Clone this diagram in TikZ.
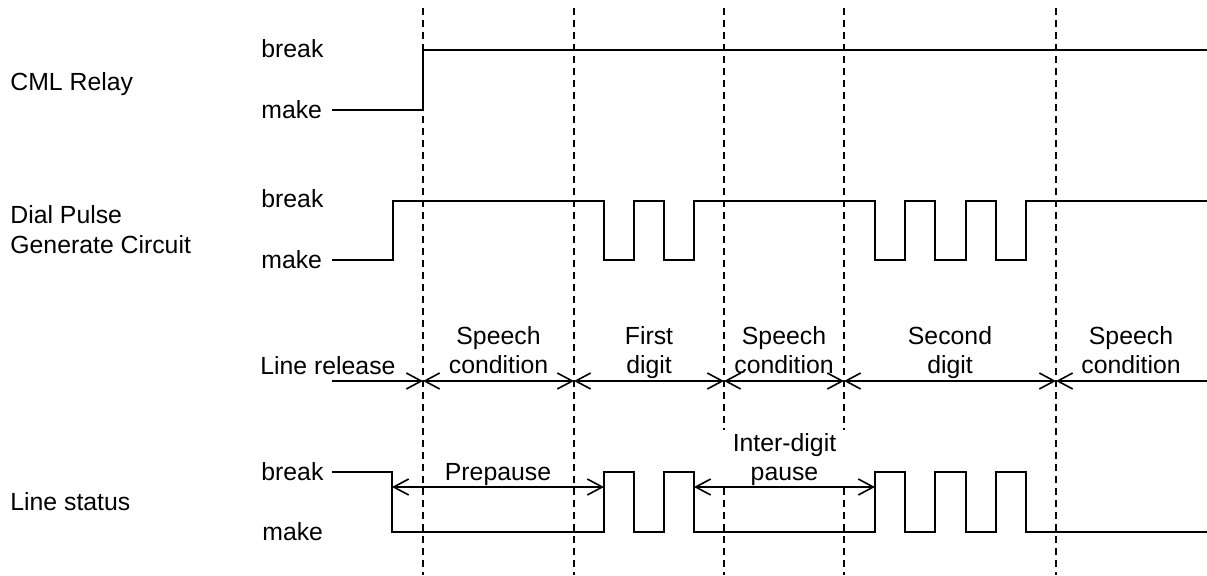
\documentclass[tikz,border=0pt]{standalone}
\usepackage{fontspec}
\setmainfont{Liberation Sans}
\usetikzlibrary{arrows.meta}

\begin{document}
\begin{tikzpicture}[x=0.5pt, y=-0.5pt,
      txt/.style={inner sep=0pt, font=\fontsize{12.4}{14.5}\selectfont},
      rowname/.style={txt, anchor=base west, align=left,
                      font=\fontsize{12.4}{15}\selectfont},
      level/.style={txt, anchor=base west},
      phase/.style={txt, anchor=base, align=center},
      bound/.style={line width=0.9pt, dash pattern=on 3.3pt off 2.7pt},
      wave/.style={line width=1pt, line join=miter},
      spanarrow/.style={line width=0.8pt},
      >={Straight Barb[length=7.5pt,width=8pt]}]

    \useasboundingbox (0,0) rectangle (1207,575);

    % phase boundaries
    \draw[bound] (423,8) -- (423,575);
    \draw[bound] (574,8) -- (574,575);
    \draw[bound] (724,8) -- (724,575);
    \draw[bound] (844,8) -- (844,575);
    \draw[bound] (1056,8) -- (1056,575);

    % row names
    \node[rowname] (cml) at (10,90) {CML Relay};
    \node[rowname] (dial) at (10,253) {Dial Pulse\\Generate Circuit};
    \node[rowname] (status) at (10,510) {Line status};

    \node[level] (cmlB) at (261,57) {break};
    \node[level] (cmlM) at (261,118) {make};
    \node[level] (dialB) at (261,207) {break};
    \node[level] (dialM) at (261,268) {make};
    \node[level] (statB) at (261,480) {break};
    \node[level] (statM) at (262,540) {make};

    % waveforms
    \draw[wave] (332,110) -- (423,110) -- (423,50) -- (1207,50);
    \draw[wave] (332,260) -- (393,260) -- (393,201) -- (604,201)
      -- (604,260) -- (634,260) -- (634,201) -- (664,201) -- (664,260)
      -- (694,260) -- (694,201) -- (875,201) -- (875,260) -- (905,260)
      -- (905,201) -- (935,201) -- (935,260) -- (966,260) -- (966,201)
      -- (996,201) -- (996,260) -- (1026,260) -- (1026,201) -- (1207,201);
    \draw[wave] (332,472) -- (392,472) -- (392,532) -- (604,532)
      -- (604,472) -- (634,472) -- (634,532) -- (664,532) -- (664,472)
      -- (694,472) -- (694,532) -- (875,532) -- (875,472) -- (905,472)
      -- (905,532) -- (935,532) -- (935,472) -- (966,472) -- (966,532)
      -- (996,532) -- (996,472) -- (1026,472) -- (1026,532) -- (1207,532);

    % phase line
    \coordinate (t0) at (332,381);
    \coordinate (t1) at (423,381);
    \coordinate (t2) at (574,381);
    \coordinate (t3) at (724,381);
    \coordinate (t4) at (844,381);
    \coordinate (t5) at (1056,381);
    \coordinate (t6) at (1207,381);

    \draw[spanarrow, ->] (t0) -- (t1);
    \draw[spanarrow, <->] (t1) -- (t2);
    \draw[spanarrow, <->] (t2) -- (t3);
    \draw[spanarrow, <->] (t3) -- (t4);
    \draw[spanarrow, <->] (t4) -- (t5);
    \draw[spanarrow, <-] (t5) -- (t6);

    \node[txt, anchor=base west] (release) at (260,374) {Line release};
    \node[phase] (speech1) at (498.5,373) {Speech\\condition};
    \node[phase] (digit1) at (649,373) {First\\digit};
    \node[phase] (speech2) at (784,373) {Speech\\condition};
    \node[phase] (digit2) at (950,373) {Second\\digit};
    \node[phase] (speech3) at (1131,373) {Speech\\condition};

    % pauses
    \node[phase] (prepause) at (498,480) {Prepause};
    \node[phase, fill=white, inner ysep=1.5pt, minimum width=70pt]
      (interdigit) at (784.5,480) {Inter-digit\\pause};

    \coordinate (p1) at (392,487);
    \coordinate (p2) at (604,487);
    \coordinate (p3) at (694,487);
    \coordinate (p4) at (875,487);

    \draw[spanarrow, <->] (p1) -- (p2);
    \draw[spanarrow, <->] (p3) -- (p4);
  \end{tikzpicture}
\end{document}
